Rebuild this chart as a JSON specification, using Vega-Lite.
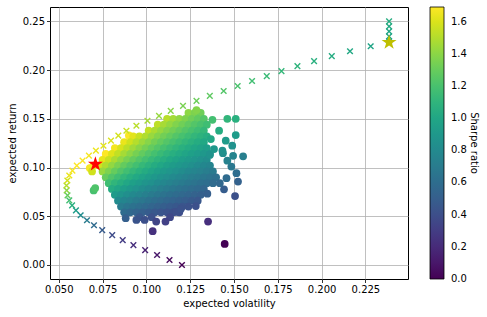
{
"$schema": "https://vega.github.io/schema/vega-lite/v6.json",
"width": 358, "height": 272,
"autosize": {"type": "none"},
"padding": {"left": 50, "top": 7, "right": 79, "bottom": 38},
"background": "white",
"config": {
  "view": {"stroke": "black", "strokeWidth": 1},
  "font": "DejaVu Sans",
  "axis": {"grid": true, "gridColor": "#b0b0b0", "gridWidth": 0.8, "domain": false, "tickColor": "black", "tickSize": 3.5, "tickWidth": 0.8, "labelFontSize": 10, "labelColor": "black", "labelFont": "DejaVu Sans", "titleFont": "DejaVu Sans", "titleFontSize": 10, "titleFontWeight": "normal", "titleColor": "black", "labelPadding": 2, "zindex": 1}
},
"datasets": {
"cloud": [
{"vol":0.1240,"ret":0.156,"sharpe":1.258},{"vol":0.1275,"ret":0.156,"sharpe":1.224},{"vol":0.1310,"ret":0.156,"sharpe":1.191},
{"vol":0.1286,"ret":0.159,"sharpe":1.236},
{"vol":0.1118,"ret":0.150,"sharpe":1.342},{"vol":0.1153,"ret":0.150,"sharpe":1.301},{"vol":0.1188,"ret":0.150,"sharpe":1.263},{"vol":0.1223,"ret":0.150,"sharpe":1.227},{"vol":0.1258,"ret":0.150,"sharpe":1.192},{"vol":0.1293,"ret":0.150,"sharpe":1.160},{"vol":0.1328,"ret":0.150,"sharpe":1.130},
{"vol":0.1065,"ret":0.144,"sharpe":1.352},{"vol":0.1100,"ret":0.144,"sharpe":1.309},{"vol":0.1135,"ret":0.144,"sharpe":1.269},{"vol":0.1170,"ret":0.144,"sharpe":1.231},{"vol":0.1205,"ret":0.144,"sharpe":1.195},{"vol":0.1240,"ret":0.144,"sharpe":1.161},{"vol":0.1275,"ret":0.144,"sharpe":1.129},{"vol":0.1310,"ret":0.144,"sharpe":1.099},{"vol":0.1345,"ret":0.144,"sharpe":1.071},
{"vol":0.1013,"ret":0.138,"sharpe":1.362},{"vol":0.1048,"ret":0.138,"sharpe":1.317},{"vol":0.1083,"ret":0.138,"sharpe":1.274},{"vol":0.1118,"ret":0.138,"sharpe":1.234},{"vol":0.1153,"ret":0.138,"sharpe":1.197},{"vol":0.1188,"ret":0.138,"sharpe":1.162},{"vol":0.1223,"ret":0.138,"sharpe":1.128},{"vol":0.1258,"ret":0.138,"sharpe":1.097},{"vol":0.1293,"ret":0.138,"sharpe":1.067},{"vol":0.1328,"ret":0.138,"sharpe":1.039},
{"vol":0.0900,"ret":0.133,"sharpe":1.478},
{"vol":0.0925,"ret":0.132,"sharpe":1.427},{"vol":0.0960,"ret":0.132,"sharpe":1.375},{"vol":0.0995,"ret":0.132,"sharpe":1.327},{"vol":0.1030,"ret":0.132,"sharpe":1.282},{"vol":0.1065,"ret":0.132,"sharpe":1.239},{"vol":0.1100,"ret":0.132,"sharpe":1.200},{"vol":0.1135,"ret":0.132,"sharpe":1.163},{"vol":0.1170,"ret":0.132,"sharpe":1.128},{"vol":0.1205,"ret":0.132,"sharpe":1.095},{"vol":0.1240,"ret":0.132,"sharpe":1.065},{"vol":0.1275,"ret":0.132,"sharpe":1.035},{"vol":0.1310,"ret":0.132,"sharpe":1.008},{"vol":0.1345,"ret":0.132,"sharpe":0.981},
{"vol":0.0873,"ret":0.126,"sharpe":1.443},{"vol":0.0908,"ret":0.126,"sharpe":1.388},{"vol":0.0943,"ret":0.126,"sharpe":1.336},{"vol":0.0978,"ret":0.126,"sharpe":1.288},{"vol":0.1013,"ret":0.126,"sharpe":1.244},{"vol":0.1048,"ret":0.126,"sharpe":1.202},{"vol":0.1083,"ret":0.126,"sharpe":1.163},{"vol":0.1118,"ret":0.126,"sharpe":1.127},{"vol":0.1153,"ret":0.126,"sharpe":1.093},{"vol":0.1188,"ret":0.126,"sharpe":1.061},{"vol":0.1223,"ret":0.126,"sharpe":1.030},{"vol":0.1258,"ret":0.126,"sharpe":1.002},{"vol":0.1293,"ret":0.126,"sharpe":0.974},{"vol":0.1328,"ret":0.126,"sharpe":0.949},
{"vol":0.0820,"ret":0.120,"sharpe":1.463},{"vol":0.0855,"ret":0.120,"sharpe":1.404},{"vol":0.0890,"ret":0.120,"sharpe":1.348},{"vol":0.0925,"ret":0.120,"sharpe":1.297},{"vol":0.0960,"ret":0.120,"sharpe":1.250},{"vol":0.0995,"ret":0.120,"sharpe":1.206},{"vol":0.1030,"ret":0.120,"sharpe":1.165},{"vol":0.1065,"ret":0.120,"sharpe":1.127},{"vol":0.1100,"ret":0.120,"sharpe":1.091},{"vol":0.1135,"ret":0.120,"sharpe":1.057},{"vol":0.1170,"ret":0.120,"sharpe":1.026},{"vol":0.1205,"ret":0.120,"sharpe":0.996},{"vol":0.1240,"ret":0.120,"sharpe":0.968},{"vol":0.1275,"ret":0.120,"sharpe":0.941},{"vol":0.1310,"ret":0.120,"sharpe":0.916},{"vol":0.1345,"ret":0.120,"sharpe":0.892},
{"vol":0.0768,"ret":0.114,"sharpe":1.484},{"vol":0.0803,"ret":0.114,"sharpe":1.420},{"vol":0.0838,"ret":0.114,"sharpe":1.360},{"vol":0.0873,"ret":0.114,"sharpe":1.306},{"vol":0.0908,"ret":0.114,"sharpe":1.255},{"vol":0.0943,"ret":0.114,"sharpe":1.209},{"vol":0.0978,"ret":0.114,"sharpe":1.166},{"vol":0.1013,"ret":0.114,"sharpe":1.125},{"vol":0.1048,"ret":0.114,"sharpe":1.088},{"vol":0.1083,"ret":0.114,"sharpe":1.053},{"vol":0.1118,"ret":0.114,"sharpe":1.020},{"vol":0.1153,"ret":0.114,"sharpe":0.989},{"vol":0.1188,"ret":0.114,"sharpe":0.960},{"vol":0.1223,"ret":0.114,"sharpe":0.932},{"vol":0.1258,"ret":0.114,"sharpe":0.906},{"vol":0.1293,"ret":0.114,"sharpe":0.882},{"vol":0.1328,"ret":0.114,"sharpe":0.858},{"vol":0.1363,"ret":0.114,"sharpe":0.836},
{"vol":0.0750,"ret":0.108,"sharpe":1.440},{"vol":0.0785,"ret":0.108,"sharpe":1.376},{"vol":0.0820,"ret":0.108,"sharpe":1.317},{"vol":0.0855,"ret":0.108,"sharpe":1.263},{"vol":0.0890,"ret":0.108,"sharpe":1.213},{"vol":0.0925,"ret":0.108,"sharpe":1.168},{"vol":0.0960,"ret":0.108,"sharpe":1.125},{"vol":0.0995,"ret":0.108,"sharpe":1.085},{"vol":0.1030,"ret":0.108,"sharpe":1.049},{"vol":0.1065,"ret":0.108,"sharpe":1.014},{"vol":0.1100,"ret":0.108,"sharpe":0.982},{"vol":0.1135,"ret":0.108,"sharpe":0.952},{"vol":0.1170,"ret":0.108,"sharpe":0.923},{"vol":0.1205,"ret":0.108,"sharpe":0.896},{"vol":0.1240,"ret":0.108,"sharpe":0.871},{"vol":0.1275,"ret":0.108,"sharpe":0.847},{"vol":0.1310,"ret":0.108,"sharpe":0.824},{"vol":0.1345,"ret":0.108,"sharpe":0.803},
{"vol":0.0698,"ret":0.102,"sharpe":1.461},{"vol":0.0733,"ret":0.102,"sharpe":1.392},{"vol":0.0768,"ret":0.102,"sharpe":1.328},{"vol":0.0803,"ret":0.102,"sharpe":1.270},{"vol":0.0838,"ret":0.102,"sharpe":1.217},{"vol":0.0873,"ret":0.102,"sharpe":1.168},{"vol":0.0908,"ret":0.102,"sharpe":1.123},{"vol":0.0943,"ret":0.102,"sharpe":1.082},{"vol":0.0978,"ret":0.102,"sharpe":1.043},{"vol":0.1013,"ret":0.102,"sharpe":1.007},{"vol":0.1048,"ret":0.102,"sharpe":0.973},{"vol":0.1083,"ret":0.102,"sharpe":0.942},{"vol":0.1118,"ret":0.102,"sharpe":0.912},{"vol":0.1153,"ret":0.102,"sharpe":0.885},{"vol":0.1188,"ret":0.102,"sharpe":0.859},{"vol":0.1223,"ret":0.102,"sharpe":0.834},{"vol":0.1258,"ret":0.102,"sharpe":0.811},{"vol":0.1293,"ret":0.102,"sharpe":0.789},{"vol":0.1328,"ret":0.102,"sharpe":0.768},{"vol":0.1363,"ret":0.102,"sharpe":0.748},
{"vol":0.0677,"ret":0.0995,"sharpe":1.470},
{"vol":0.0690,"ret":0.096,"sharpe":1.391},{"vol":0.0750,"ret":0.096,"sharpe":1.280},{"vol":0.0785,"ret":0.096,"sharpe":1.223},{"vol":0.0820,"ret":0.096,"sharpe":1.171},{"vol":0.0855,"ret":0.096,"sharpe":1.123},{"vol":0.0890,"ret":0.096,"sharpe":1.079},{"vol":0.0925,"ret":0.096,"sharpe":1.038},{"vol":0.0960,"ret":0.096,"sharpe":1.000},{"vol":0.0995,"ret":0.096,"sharpe":0.965},{"vol":0.1030,"ret":0.096,"sharpe":0.932},{"vol":0.1065,"ret":0.096,"sharpe":0.901},{"vol":0.1100,"ret":0.096,"sharpe":0.873},{"vol":0.1135,"ret":0.096,"sharpe":0.846},{"vol":0.1170,"ret":0.096,"sharpe":0.821},{"vol":0.1205,"ret":0.096,"sharpe":0.797},{"vol":0.1240,"ret":0.096,"sharpe":0.774},{"vol":0.1275,"ret":0.096,"sharpe":0.753},{"vol":0.1310,"ret":0.096,"sharpe":0.733},{"vol":0.1345,"ret":0.096,"sharpe":0.714},{"vol":0.1380,"ret":0.096,"sharpe":0.696},
{"vol":0.0768,"ret":0.090,"sharpe":1.172},{"vol":0.0803,"ret":0.090,"sharpe":1.121},{"vol":0.0838,"ret":0.090,"sharpe":1.074},{"vol":0.0873,"ret":0.090,"sharpe":1.031},{"vol":0.0908,"ret":0.090,"sharpe":0.991},{"vol":0.0943,"ret":0.090,"sharpe":0.954},{"vol":0.0978,"ret":0.090,"sharpe":0.920},{"vol":0.1013,"ret":0.090,"sharpe":0.888},{"vol":0.1048,"ret":0.090,"sharpe":0.859},{"vol":0.1083,"ret":0.090,"sharpe":0.831},{"vol":0.1118,"ret":0.090,"sharpe":0.805},{"vol":0.1153,"ret":0.090,"sharpe":0.781},{"vol":0.1188,"ret":0.090,"sharpe":0.758},{"vol":0.1223,"ret":0.090,"sharpe":0.736},{"vol":0.1258,"ret":0.090,"sharpe":0.715},{"vol":0.1293,"ret":0.090,"sharpe":0.696},{"vol":0.1328,"ret":0.090,"sharpe":0.678},{"vol":0.1363,"ret":0.090,"sharpe":0.660},{"vol":0.1398,"ret":0.090,"sharpe":0.644},
{"vol":0.0785,"ret":0.084,"sharpe":1.070},{"vol":0.0820,"ret":0.084,"sharpe":1.024},{"vol":0.0855,"ret":0.084,"sharpe":0.982},{"vol":0.0890,"ret":0.084,"sharpe":0.944},{"vol":0.0925,"ret":0.084,"sharpe":0.908},{"vol":0.0960,"ret":0.084,"sharpe":0.875},{"vol":0.0995,"ret":0.084,"sharpe":0.844},{"vol":0.1030,"ret":0.084,"sharpe":0.816},{"vol":0.1065,"ret":0.084,"sharpe":0.789},{"vol":0.1100,"ret":0.084,"sharpe":0.764},{"vol":0.1135,"ret":0.084,"sharpe":0.740},{"vol":0.1170,"ret":0.084,"sharpe":0.718},{"vol":0.1205,"ret":0.084,"sharpe":0.697},{"vol":0.1240,"ret":0.084,"sharpe":0.677},{"vol":0.1275,"ret":0.084,"sharpe":0.659},{"vol":0.1310,"ret":0.084,"sharpe":0.641},{"vol":0.1345,"ret":0.084,"sharpe":0.625},{"vol":0.1380,"ret":0.084,"sharpe":0.609},
{"vol":0.0803,"ret":0.078,"sharpe":0.971},{"vol":0.0838,"ret":0.078,"sharpe":0.931},{"vol":0.0873,"ret":0.078,"sharpe":0.893},{"vol":0.0908,"ret":0.078,"sharpe":0.859},{"vol":0.0943,"ret":0.078,"sharpe":0.827},{"vol":0.0978,"ret":0.078,"sharpe":0.798},{"vol":0.1013,"ret":0.078,"sharpe":0.770},{"vol":0.1048,"ret":0.078,"sharpe":0.744},{"vol":0.1083,"ret":0.078,"sharpe":0.720},{"vol":0.1118,"ret":0.078,"sharpe":0.698},{"vol":0.1153,"ret":0.078,"sharpe":0.677},{"vol":0.1188,"ret":0.078,"sharpe":0.657},{"vol":0.1223,"ret":0.078,"sharpe":0.638},{"vol":0.1258,"ret":0.078,"sharpe":0.620},{"vol":0.1293,"ret":0.078,"sharpe":0.603},{"vol":0.1328,"ret":0.078,"sharpe":0.587},
{"vol":0.0820,"ret":0.072,"sharpe":0.878},{"vol":0.0855,"ret":0.072,"sharpe":0.842},{"vol":0.0890,"ret":0.072,"sharpe":0.809},{"vol":0.0925,"ret":0.072,"sharpe":0.778},{"vol":0.0960,"ret":0.072,"sharpe":0.750},{"vol":0.0995,"ret":0.072,"sharpe":0.724},{"vol":0.1030,"ret":0.072,"sharpe":0.699},{"vol":0.1065,"ret":0.072,"sharpe":0.676},{"vol":0.1100,"ret":0.072,"sharpe":0.655},{"vol":0.1135,"ret":0.072,"sharpe":0.634},{"vol":0.1170,"ret":0.072,"sharpe":0.615},{"vol":0.1205,"ret":0.072,"sharpe":0.598},{"vol":0.1240,"ret":0.072,"sharpe":0.581},{"vol":0.1275,"ret":0.072,"sharpe":0.565},{"vol":0.1310,"ret":0.072,"sharpe":0.550},
{"vol":0.0838,"ret":0.066,"sharpe":0.788},{"vol":0.0873,"ret":0.066,"sharpe":0.756},{"vol":0.0908,"ret":0.066,"sharpe":0.727},{"vol":0.0943,"ret":0.066,"sharpe":0.700},{"vol":0.0978,"ret":0.066,"sharpe":0.675},{"vol":0.1013,"ret":0.066,"sharpe":0.652},{"vol":0.1048,"ret":0.066,"sharpe":0.630},{"vol":0.1083,"ret":0.066,"sharpe":0.609},{"vol":0.1118,"ret":0.066,"sharpe":0.590},{"vol":0.1153,"ret":0.066,"sharpe":0.572},{"vol":0.1188,"ret":0.066,"sharpe":0.556},{"vol":0.1223,"ret":0.066,"sharpe":0.540},{"vol":0.1258,"ret":0.066,"sharpe":0.525},{"vol":0.1293,"ret":0.066,"sharpe":0.510},
{"vol":0.0855,"ret":0.060,"sharpe":0.702},{"vol":0.0890,"ret":0.060,"sharpe":0.674},{"vol":0.0925,"ret":0.060,"sharpe":0.649},{"vol":0.0960,"ret":0.060,"sharpe":0.625},{"vol":0.0995,"ret":0.060,"sharpe":0.603},{"vol":0.1030,"ret":0.060,"sharpe":0.583},{"vol":0.1065,"ret":0.060,"sharpe":0.563},{"vol":0.1100,"ret":0.060,"sharpe":0.545},{"vol":0.1135,"ret":0.060,"sharpe":0.529},{"vol":0.1170,"ret":0.060,"sharpe":0.513},{"vol":0.1205,"ret":0.060,"sharpe":0.498},{"vol":0.1240,"ret":0.060,"sharpe":0.484},
{"vol":0.0873,"ret":0.054,"sharpe":0.619},{"vol":0.0908,"ret":0.054,"sharpe":0.595},{"vol":0.0943,"ret":0.054,"sharpe":0.573},{"vol":0.0978,"ret":0.054,"sharpe":0.552},{"vol":0.1013,"ret":0.054,"sharpe":0.533},{"vol":0.1048,"ret":0.054,"sharpe":0.515},{"vol":0.1083,"ret":0.054,"sharpe":0.499},{"vol":0.1118,"ret":0.054,"sharpe":0.483},{"vol":0.1153,"ret":0.054,"sharpe":0.468},{"vol":0.1188,"ret":0.054,"sharpe":0.455},
{"vol":0.0960,"ret":0.049,"sharpe":0.510},{"vol":0.1030,"ret":0.049,"sharpe":0.476},{"vol":0.1135,"ret":0.049,"sharpe":0.432},
{"vol":0.0882,"ret":0.0480,"sharpe":0.544},{"vol":0.0943,"ret":0.0462,"sharpe":0.490},{"vol":0.0990,"ret":0.0462,"sharpe":0.467},{"vol":0.1056,"ret":0.0445,"sharpe":0.421},{"vol":0.1109,"ret":0.0445,"sharpe":0.401},
{"vol":0.1036,"ret":0.0347,"sharpe":0.335},{"vol":0.1352,"ret":0.0445,"sharpe":0.329},{"vol":0.1447,"ret":0.0216,"sharpe":0.149},
{"vol":0.1169,"ret":0.0544,"sharpe":0.465},{"vol":0.1197,"ret":0.0578,"sharpe":0.483},{"vol":0.1282,"ret":0.0605,"sharpe":0.472},
{"vol":0.1348,"ret":0.0732,"sharpe":0.543},{"vol":0.1443,"ret":0.0776,"sharpe":0.538},{"vol":0.1506,"ret":0.0707,"sharpe":0.469},
{"vol":0.1419,"ret":0.0840,"sharpe":0.592},{"vol":0.1457,"ret":0.0891,"sharpe":0.612},{"vol":0.1523,"ret":0.0856,"sharpe":0.562},{"vol":0.1514,"ret":0.0942,"sharpe":0.622},
{"vol":0.1485,"ret":0.1010,"sharpe":0.680},{"vol":0.1462,"ret":0.1070,"sharpe":0.732},{"vol":0.1362,"ret":0.1130,"sharpe":0.830},{"vol":0.1437,"ret":0.1148,"sharpe":0.799},
{"vol":0.1495,"ret":0.1120,"sharpe":0.749},{"vol":0.1552,"ret":0.1115,"sharpe":0.718},{"vol":0.1434,"ret":0.1173,"sharpe":0.818},{"vol":0.1386,"ret":0.1190,"sharpe":0.859},
{"vol":0.1490,"ret":0.1224,"sharpe":0.821},{"vol":0.1453,"ret":0.1276,"sharpe":0.878},{"vol":0.1368,"ret":0.1293,"sharpe":0.945},{"vol":0.1510,"ret":0.1334,"sharpe":0.883},
{"vol":0.1415,"ret":0.1378,"sharpe":0.974},{"vol":0.1377,"ret":0.1490,"sharpe":1.082},{"vol":0.1462,"ret":0.1500,"sharpe":1.026},{"vol":0.1510,"ret":0.1500,"sharpe":0.993},
{"vol":0.0699,"ret":0.0765,"sharpe":1.094},{"vol":0.0708,"ret":0.0790,"sharpe":1.116}
],
"frontier": [
{"vol":0.1203,"ret":0.0000,"sharpe":0.000},{"vol":0.1132,"ret":0.0051,"sharpe":0.045},{"vol":0.1061,"ret":0.0102,"sharpe":0.096},{"vol":0.0993,"ret":0.0153,"sharpe":0.154},{"vol":0.0926,"ret":0.0204,"sharpe":0.220},
{"vol":0.0865,"ret":0.0255,"sharpe":0.295},{"vol":0.0805,"ret":0.0306,"sharpe":0.380},{"vol":0.0748,"ret":0.0357,"sharpe":0.477},{"vol":0.0701,"ret":0.0408,"sharpe":0.582},{"vol":0.0661,"ret":0.0459,"sharpe":0.694},
{"vol":0.0625,"ret":0.0510,"sharpe":0.816},{"vol":0.0598,"ret":0.0561,"sharpe":0.938},{"vol":0.0576,"ret":0.0612,"sharpe":1.063},{"vol":0.0560,"ret":0.0663,"sharpe":1.184},{"vol":0.0550,"ret":0.0714,"sharpe":1.298},
{"vol":0.0545,"ret":0.0765,"sharpe":1.404},{"vol":0.0544,"ret":0.0816,"sharpe":1.500},{"vol":0.0549,"ret":0.0867,"sharpe":1.579},{"vol":0.0560,"ret":0.0918,"sharpe":1.639},{"vol":0.0578,"ret":0.0969,"sharpe":1.676},
{"vol":0.0603,"ret":0.1020,"sharpe":1.692},{"vol":0.0636,"ret":0.1071,"sharpe":1.684},{"vol":0.0672,"ret":0.1122,"sharpe":1.670},{"vol":0.0712,"ret":0.1173,"sharpe":1.647},{"vol":0.0755,"ret":0.1224,"sharpe":1.621},
{"vol":0.0798,"ret":0.1276,"sharpe":1.599},{"vol":0.0840,"ret":0.1327,"sharpe":1.580},{"vol":0.0886,"ret":0.1378,"sharpe":1.555},{"vol":0.0943,"ret":0.1429,"sharpe":1.515},{"vol":0.1006,"ret":0.1480,"sharpe":1.471},
{"vol":0.1072,"ret":0.1531,"sharpe":1.428},{"vol":0.1139,"ret":0.1582,"sharpe":1.389},{"vol":0.1209,"ret":0.1633,"sharpe":1.351},{"vol":0.1286,"ret":0.1684,"sharpe":1.310},{"vol":0.1362,"ret":0.1735,"sharpe":1.274},
{"vol":0.1441,"ret":0.1786,"sharpe":1.239},{"vol":0.1521,"ret":0.1837,"sharpe":1.208},{"vol":0.1603,"ret":0.1888,"sharpe":1.178},{"vol":0.1687,"ret":0.1939,"sharpe":1.149},{"vol":0.1771,"ret":0.1990,"sharpe":1.124},
{"vol":0.1862,"ret":0.2041,"sharpe":1.096},{"vol":0.1957,"ret":0.2092,"sharpe":1.069},{"vol":0.2058,"ret":0.2143,"sharpe":1.041},{"vol":0.2162,"ret":0.2194,"sharpe":1.015},{"vol":0.2280,"ret":0.2245,"sharpe":0.985},
{"vol":0.2385,"ret":0.2296,"sharpe":0.963},{"vol":0.2385,"ret":0.2347,"sharpe":0.984},{"vol":0.2385,"ret":0.2398,"sharpe":1.005},{"vol":0.2385,"ret":0.2449,"sharpe":1.027},{"vol":0.2385,"ret":0.2500,"sharpe":1.048}
],
"stars": [
{"vol":0.0709,"ret":0.1035,"portfolio":"max Sharpe"},
{"vol":0.2385,"ret":0.2285,"portfolio":"max return"}
]
},
"layer": [
{
 "data": {"name": "cloud"},
 "mark": {"type": "circle", "size": 60, "opacity": 1},
 "encoding": {
  "x": {"field": "vol", "type": "quantitative", "scale": {"domain": [0.0450, 0.2493], "nice": false, "zero": false}, "axis": {"title": "expected volatility", "values": [0.05, 0.075, 0.1, 0.125, 0.15, 0.175, 0.2, 0.225], "format": ".3f", "titlePadding": 4}},
  "y": {"field": "ret", "type": "quantitative", "scale": {"domain": [-0.0144, 0.2648], "nice": false, "zero": false}, "axis": {"title": "expected return", "values": [0, 0.05, 0.1, 0.15, 0.2, 0.25], "format": ".2f", "titlePadding": 5}},
  "color": {"field": "sharpe", "type": "quantitative", "scale": {"scheme": "viridis", "nice": false, "zero": false}, "legend": null}
 }
},
{
 "data": {"name": "frontier"},
 "mark": {"type": "point", "shape": "M-1,-1L1,1M-1,1L1,-1", "size": 32, "strokeWidth": 1.4, "filled": false, "opacity": 1},
 "encoding": {
  "x": {"field": "vol", "type": "quantitative"},
  "y": {"field": "ret", "type": "quantitative"},
  "color": {"field": "sharpe", "type": "quantitative", "scale": {"scheme": "viridis", "nice": false, "zero": false, "domain": [-0.0005, 1.692]},
   "legend": {"orient": "none", "legendX": 380, "legendY": 0, "direction": "vertical", "gradientLength": 272, "gradientThickness": 14, "gradientStrokeColor": "black", "gradientStrokeWidth": 0.8, "title": "Sharpe ratio", "titleOrient": "right", "titleAngle": 270, "titleAnchor": "middle", "titleFontSize": 10, "titleFontWeight": "normal", "titleColor": "black", "titlePadding": 2, "values": [0, 0.2, 0.4, 0.6, 0.8, 1.0, 1.2, 1.4, 1.6], "format": ".1f", "labelFontSize": 10, "labelColor": "black", "labelOffset": 7, "labelBaseline": "middle", "labelFont": "DejaVu Sans", "titleFont": "DejaVu Sans"}}
 }
},
{
 "data": {"name": "stars"},
 "mark": {"type": "point", "shape": "M0,-1L0.2245,-0.309L0.951,-0.309L0.363,0.118L0.588,0.809L0,0.382L-0.588,0.809L-0.363,0.118L-0.951,-0.309L-0.2245,-0.309Z", "size": 250, "filled": true, "opacity": 1, "strokeWidth": 0},
 "encoding": {
  "x": {"field": "vol", "type": "quantitative"},
  "y": {"field": "ret", "type": "quantitative"},
  "fill": {"field": "portfolio", "type": "nominal", "scale": {"domain": ["max Sharpe", "max return"], "range": ["#ff0000", "#bfbf00"]}, "legend": null}
 }
}
],
"resolve": {"scale": {"color": "independent"}}
}
